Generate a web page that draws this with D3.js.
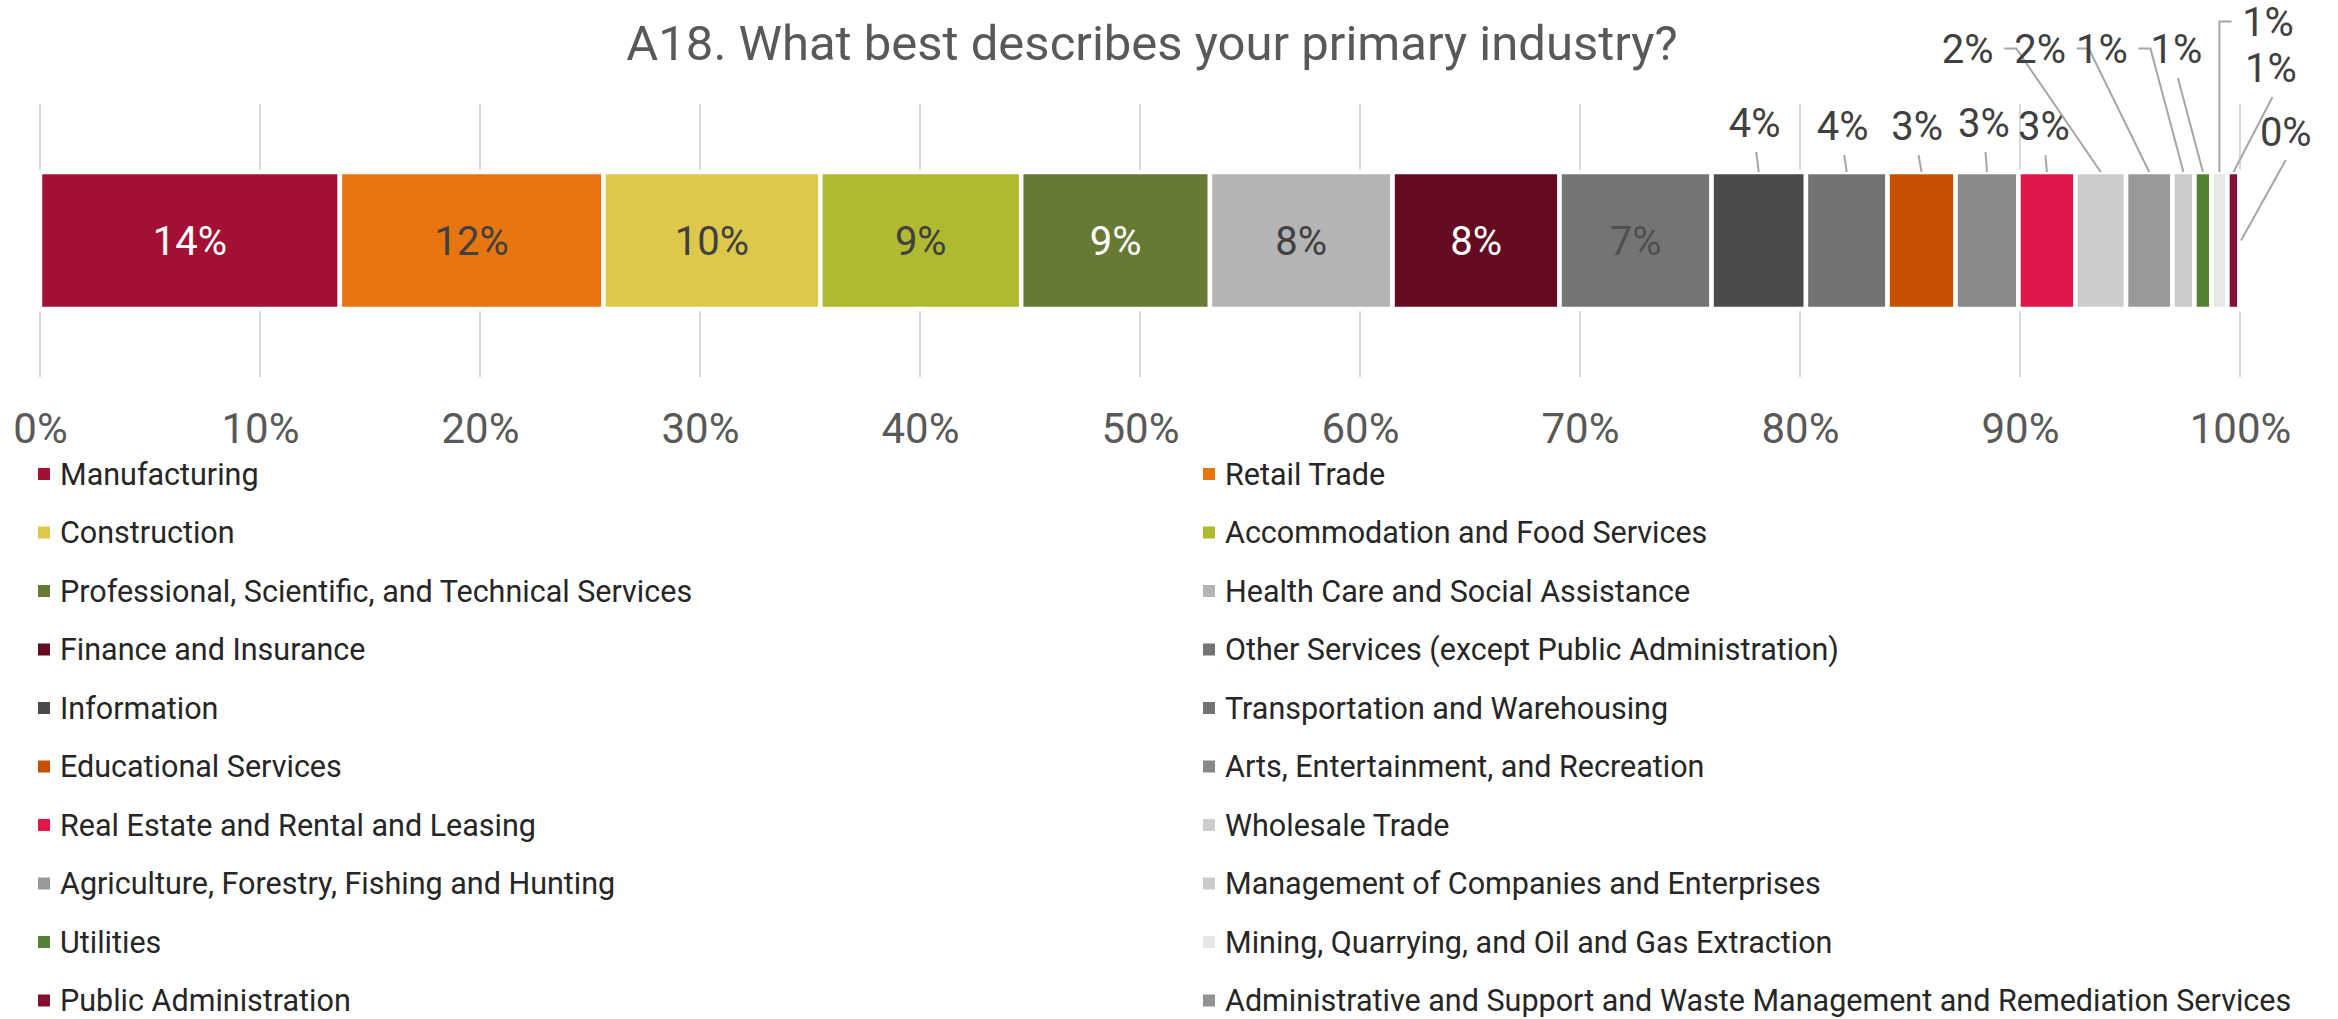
<!DOCTYPE html>
<html>
<head>
<meta charset="utf-8">
<script src="https://cdn.jsdelivr.net/npm/d3@7"></script>
<style>
  html, body { margin: 0; padding: 0; background: #ffffff; }
  svg { display: block; font-family: Roboto, "Liberation Sans", Arial, sans-serif; }
</style>
</head>
<body>
<svg id="chart" width="2338" height="1019"></svg>
<script>
// Industry shares (percent of respondents), in stacking order
const categories = [
  "Manufacturing",
  "Retail Trade",
  "Construction",
  "Accommodation and Food Services",
  "Professional, Scientific, and Technical Services",
  "Health Care and Social Assistance",
  "Finance and Insurance",
  "Other Services (except Public Administration)",
  "Information",
  "Transportation and Warehousing",
  "Educational Services",
  "Arts, Entertainment, and Recreation",
  "Real Estate and Rental and Leasing",
  "Wholesale Trade",
  "Agriculture, Forestry, Fishing and Hunting",
  "Management of Companies and Enterprises",
  "Utilities",
  "Mining, Quarrying, and Oil and Gas Extraction",
  "Public Administration",
  "Administrative and Support and Waste Management and Remediation Services"
];
const shares = [13.63, 11.98, 9.86, 9.13, 8.58, 8.30, 7.59, 6.91, 4.29, 3.71,
                3.09, 2.86, 2.59, 2.30, 2.11, 1.00, 0.77, 0.73, 0.55, 0.02];
const xTicks = [0, 10, 20, 30, 40, 50, 60, 70, 80, 90, 100];
const title = "A18. What best describes your primary industry?";

const colors = ["#A31034", "#E8760F", "#DEC84B", "#B0BA31", "#677A33",
                "#B4B4B4", "#640B21", "#747474", "#4B4B4B", "#737373",
                "#C55000", "#898989", "#E0184A", "#CCCCCC", "#999999",
                "#CBCBCB", "#548235", "#E7E7E7", "#841132", "#939393"];
const insideText = ["#ffffff", "#404040", "#404040", "#404040", "#ffffff",
                    "#404040", "#ffffff", "#505050"];

// Placement of the outside labels for the narrow segments:
// dx = label centre offset from segment centre, y = baseline, kind = leader shape
const callouts = [
  { dx: -4,   y: 137, kind: "below" },
  { dx: -4,   y: 140, kind: "below" },
  { dx: -4.5, y: 140, kind: "below" },
  { dx: -3,   y: 137, kind: "below" },
  { dx: -3,   y: 140, kind: "below" },
  { dx: -133, y: 63,  kind: "tickRight" },
  { dx: -109, y: 63,  kind: "tickRight" },
  { dx: -81.5,y: 63,  kind: "tickRight" },
  { dx: -26.5,y: 63,  kind: "below" },
  { dx: 48.6, y: 36,  kind: "elbowLeft" },
  { dx: 37.5, y: 82,  kind: "below" },
  { dx: 46,   y: 146, kind: "side" }
];

const svg = d3.select("#chart");

const x = d3.scaleLinear().domain([0, 100]).range([40, 2240]);
const barTop = 172, barBottom = 309;
const gridTop = 104, gridBottom = 377;

// Title
svg.append("text")
  .attr("x", 1152).attr("y", 60)
  .attr("text-anchor", "middle")
  .attr("font-size", 49)
  .attr("fill", "#595959")
  .text(title);

// Vertical gridlines
svg.append("g").selectAll("line")
  .data(xTicks).join("line")
  .attr("x1", d => x(d)).attr("x2", d => x(d))
  .attr("y1", gridTop).attr("y2", gridBottom)
  .attr("stroke", "#D9D9D9").attr("stroke-width", 2);

// Stacked segments
const stack = [];
let cum = 0;
shares.forEach((v, i) => { stack.push({ i, name: categories[i], v, x0: cum, x1: cum + v }); cum += v; });

svg.append("g").selectAll("rect")
  .data(stack).join("rect")
  .attr("x", d => x(d.x0)).attr("width", d => Math.max(0, x(d.x1) - x(d.x0)))
  .attr("y", barTop).attr("height", barBottom - barTop)
  .attr("fill", d => colors[d.i])
  .attr("stroke", "#ffffff").attr("stroke-width", 4.5);

const fmt = v => Math.round(v) + "%";

// Labels inside the wide segments
svg.append("g").selectAll("text")
  .data(stack.slice(0, 8)).join("text")
  .attr("x", d => x((d.x0 + d.x1) / 2))
  .attr("y", 255)
  .attr("text-anchor", "middle")
  .attr("font-size", 40)
  .attr("fill", d => insideText[d.i])
  .text(d => fmt(d.v));

// Outside labels with leader lines
const outer = stack.slice(8);
const gOut = svg.append("g");
const labelH = 29, halfW = 26.5;
outer.forEach((d, k) => {
  const c = callouts[k];
  const cx = x((d.x0 + d.x1) / 2);
  const lx = cx + c.dx;
  const midY = c.y - labelH / 2;
  let pts;
  if (c.kind === "below") {
    pts = [[lx + 1.5, c.y + 15], [cx, barTop]];
  } else if (c.kind === "tickRight") {
    const sx = lx + halfW + 10;
    pts = [[sx, midY], [sx + 12, midY], [cx, barTop]];
  } else if (c.kind === "elbowLeft") {
    const sx = lx - halfW - 10;
    pts = [[sx, midY], [cx, midY], [cx, barTop]];
  } else {
    pts = [[lx, c.y + 14], [x(d.x1) + 1, (barTop + barBottom) / 2]];
  }
  gOut.append("path")
    .attr("d", d3.line()(pts))
    .attr("fill", "none")
    .attr("stroke", "#A6A6A6").attr("stroke-width", 2);
  gOut.append("text")
    .attr("x", lx).attr("y", c.y)
    .attr("text-anchor", "middle")
    .attr("font-size", 40)
    .attr("fill", "#404040")
    .text(fmt(d.v));
});

// Percentage axis
const axis = svg.append("g")
  .attr("transform", "translate(0,408)")
  .call(d3.axisBottom(x).tickValues(xTicks).tickSize(0).tickPadding(0).tickFormat(d => d + "%"));
axis.select(".domain").remove();
axis.selectAll("text")
  .attr("font-size", 42)
  .attr("font-family", "Roboto, 'Liberation Sans', Arial, sans-serif")
  .attr("fill", "#595959")
  .attr("dy", "0.83em");

// Legend: two columns, filled row by row
const legend = svg.append("g").selectAll("g")
  .data(categories.map((name, i) => ({ name, i }))).join("g")
  .attr("transform", d => `translate(${d.i % 2 === 0 ? 38 : 1203},${474 + Math.floor(d.i / 2) * 58.5})`);
legend.append("rect")
  .attr("x", 0).attr("y", -6).attr("width", 12).attr("height", 12)
  .attr("fill", d => colors[d.i]);
legend.append("text")
  .attr("x", 22).attr("y", 10.5)
  .attr("font-size", 30.5)
  .attr("fill", "#262626")
  .text(d => d.name);
</script>
</body>
</html>
